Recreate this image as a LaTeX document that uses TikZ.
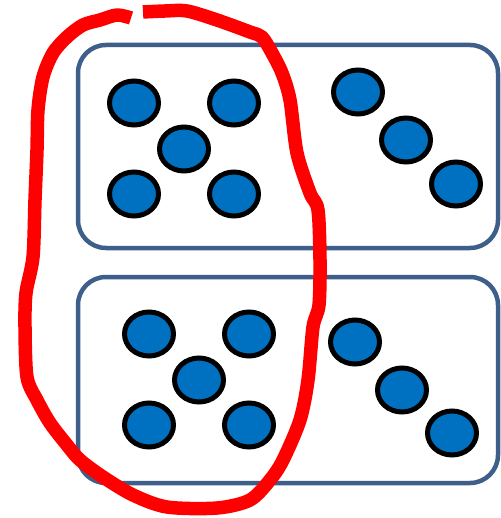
\documentclass[tikz,border=0pt]{standalone}
\usetikzlibrary{shapes.geometric}
\definecolor{boxblue}{RGB}{62,95,138}
\definecolor{dotblue}{RGB}{0,112,192}
\begin{document}
\begin{tikzpicture}[x=1pt,y=-1pt,
  domino/.style={draw=boxblue,line width=4.5pt,rounded corners=28pt,fill=white},
  dot/.style={ellipse,draw=black,line width=5pt,fill=dotblue,minimum width=49pt,minimum height=44pt,inner sep=0pt},
  loop/.style={draw=red,line width=13.5pt,line join=round}]
\useasboundingbox (0,0) rectangle (500,518);
\draw[domino] (78,45) rectangle (498,248);
\draw[domino] (78,277) rectangle (498,483);
% top half
\node[dot] (a1) at (134,103) {};
\node[dot] (a2) at (234,103) {};
\node[dot] (a3) at (184,149) {};
\node[dot] (a4) at (134,194) {};
\node[dot] (a5) at (234,194) {};
\node[dot] (b1) at (358,92) {};
\node[dot] (b2) at (406,140) {};
\node[dot] (b3) at (456,184) {};
% bottom half
\node[dot] (c1) at (149,334) {};
\node[dot] (c2) at (249,334) {};
\node[dot] (c3) at (199,380) {};
\node[dot] (c4) at (149,425) {};
\node[dot] (c5) at (249,425) {};
\node[dot] (d1) at (355,342) {};
\node[dot] (d2) at (402,390) {};
\node[dot] (d3) at (452,433) {};
% red loop
\draw[loop] plot[smooth,tension=0.5] coordinates {
 (131,18) (117,15) (100,20) (83,25) (67,37) (53,53) (43,77) (38,110) (37,150)
 (35,200) (33,257) (26,293) (25,327) (27,377) (37,400) (50,423) (67,445)
 (80,460) (103,477) (133,495) (167,507) (217,508) (250,500) (270,480)
 (283,460) (300,420) (308,380) (313,327) (319,305) (320,260) (318,210)
 (310,193) (297,153) (290,100) (282,73) (272,53) (262,37) (250,32)
 (217,20) (187,11) (165,11) (143,12)};
\end{tikzpicture}
\end{document}
